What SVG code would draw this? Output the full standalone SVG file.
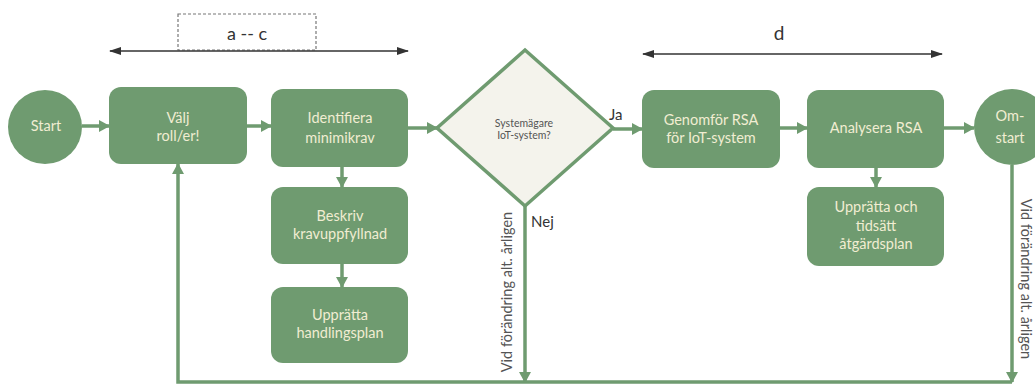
<svg xmlns="http://www.w3.org/2000/svg" width="1035" height="385" viewBox="0 0 1035 385">
  <style>
    .step { fill: #6f9b70; }
    .lbl { font-family: Lato, "Open Sans", sans-serif; font-size: 14.5px; fill: #f1edd2; text-anchor: middle; }
    .flow { fill: none; stroke: #6f9b70; stroke-width: 3.5; }
    .span { fill: none; stroke: #333; stroke-width: 1.6; }
    .note { font-family: Lato, "Open Sans", sans-serif; fill: #333; }
    .side { font-family: Lato, "Open Sans", sans-serif; font-size: 14.5px; fill: #555; text-anchor: middle; }
  </style>
  <defs>
    <marker id="head" markerUnits="userSpaceOnUse" markerWidth="12" markerHeight="12" refX="10" refY="6" orient="auto">
      <path d="M0,0 L11,6 L0,12 Z" fill="#6f9b70"/>
    </marker>
    <marker id="tip" markerUnits="userSpaceOnUse" markerWidth="12" markerHeight="10" refX="11" refY="5" orient="auto-start-reverse">
      <path d="M0,1 L12,5 L0,9 Z" fill="#333"/>
    </marker>
  </defs>

  <!-- phase spans -->
  <g id="span-ac">
    <rect x="178" y="14" width="138" height="36" fill="none" stroke="#777" stroke-width="1.2" stroke-dasharray="3 2"/>
    <text class="note" x="247" y="40" font-size="18" text-anchor="middle">a -- c</text>
    <line class="span" x1="110" y1="51" x2="408" y2="51" marker-start="url(#tip)" marker-end="url(#tip)"/>
  </g>
  <g id="span-d">
    <text class="note" x="779" y="40" font-size="19" text-anchor="middle">d</text>
    <line class="span" x1="643" y1="54" x2="942" y2="54" marker-start="url(#tip)" marker-end="url(#tip)"/>
  </g>

  <!-- connectors -->
  <g id="connectors">
    <line class="flow" x1="82" y1="126" x2="109" y2="126" marker-end="url(#head)"/>
    <line class="flow" x1="247" y1="126" x2="271" y2="126" marker-end="url(#head)"/>
    <line class="flow" x1="408" y1="128" x2="437" y2="128" marker-end="url(#head)"/>
    <line class="flow" x1="613" y1="129" x2="642" y2="129" marker-end="url(#head)"/>
    <line class="flow" x1="780" y1="128" x2="807" y2="128" marker-end="url(#head)"/>
    <line class="flow" x1="944" y1="128" x2="974" y2="128" marker-end="url(#head)"/>
    <line class="flow" x1="342" y1="167" x2="342" y2="187" marker-end="url(#head)"/>
    <line class="flow" x1="342" y1="264" x2="342" y2="287" marker-end="url(#head)"/>
    <line class="flow" x1="876" y1="168" x2="876" y2="187" marker-end="url(#head)"/>
    <line class="flow" x1="525" y1="206" x2="525" y2="382" marker-end="url(#head)"/>
    <line class="flow" x1="1012" y1="165" x2="1012" y2="382" marker-end="url(#head)"/>
    <polyline class="flow" points="1012,382 178,382 178,164" marker-end="url(#head)"/>
    <text class="note" x="609" y="120" font-size="15">Ja</text>
    <text class="note" x="531" y="227" font-size="15">Nej</text>
    <text class="side" transform="translate(512,292) rotate(-90)">Vid förändring alt. årligen</text>
    <text class="side" transform="translate(1021,279) rotate(90)">Vid förändring alt. årligen</text>
  </g>

  <g id="start">
    <circle class="step" cx="45" cy="127" r="37"/>
    <text class="lbl" x="46" y="131">Start</text>
  </g>

  <g id="valj">
    <rect class="step" x="109" y="87" width="138" height="77" rx="12"/>
    <text class="lbl" x="178" y="123">Välj</text>
    <text class="lbl" x="178" y="141">roll/er!</text>
  </g>

  <g id="identifiera">
    <rect class="step" x="271" y="89" width="137" height="78" rx="12"/>
    <text class="lbl" x="340" y="123">Identifiera</text>
    <text class="lbl" x="340" y="143">minimikrav</text>
  </g>

  <g id="beskriv">
    <rect class="step" x="271" y="187" width="137" height="77" rx="12"/>
    <text class="lbl" x="340" y="221">Beskriv</text>
    <text class="lbl" x="340" y="239">kravuppfyllnad</text>
  </g>

  <g id="handlingsplan">
    <rect class="step" x="271" y="287" width="137" height="76" rx="12"/>
    <text class="lbl" x="340" y="320">Upprätta</text>
    <text class="lbl" x="340" y="338">handlingsplan</text>
  </g>

  <g id="systemagare">
    <polygon points="525,50 613,128 525,206 437,128" fill="#f4f3ec" stroke="#6f9b70" stroke-width="3.5"/>
    <text x="524" y="127" font-family="Lato, 'Open Sans', sans-serif" font-size="10.5" fill="#555" text-anchor="middle">Systemägare</text>
    <text x="524" y="139" font-family="Lato, 'Open Sans', sans-serif" font-size="10.5" fill="#555" text-anchor="middle">IoT-system?</text>
  </g>

  <g id="genomfor">
    <rect class="step" x="642" y="90" width="138" height="78" rx="12"/>
    <text class="lbl" x="711" y="125">Genomför RSA</text>
    <text class="lbl" x="711" y="143">för IoT-system</text>
  </g>

  <g id="analysera">
    <rect class="step" x="807" y="90" width="137" height="78" rx="12"/>
    <text class="lbl" x="876" y="133">Analysera RSA</text>
  </g>

  <g id="atgardsplan">
    <rect class="step" x="807" y="187" width="137" height="79" rx="12"/>
    <text class="lbl" x="876" y="212">Upprätta och</text>
    <text class="lbl" x="876" y="231">tidsätt</text>
    <text class="lbl" x="876" y="249">åtgärdsplan</text>
  </g>

  <g id="omstart">
    <circle class="step" cx="1012" cy="127" r="38"/>
    <text class="lbl" x="1010" y="121">Om-</text>
    <text class="lbl" x="1010" y="143">start</text>
  </g>
</svg>
